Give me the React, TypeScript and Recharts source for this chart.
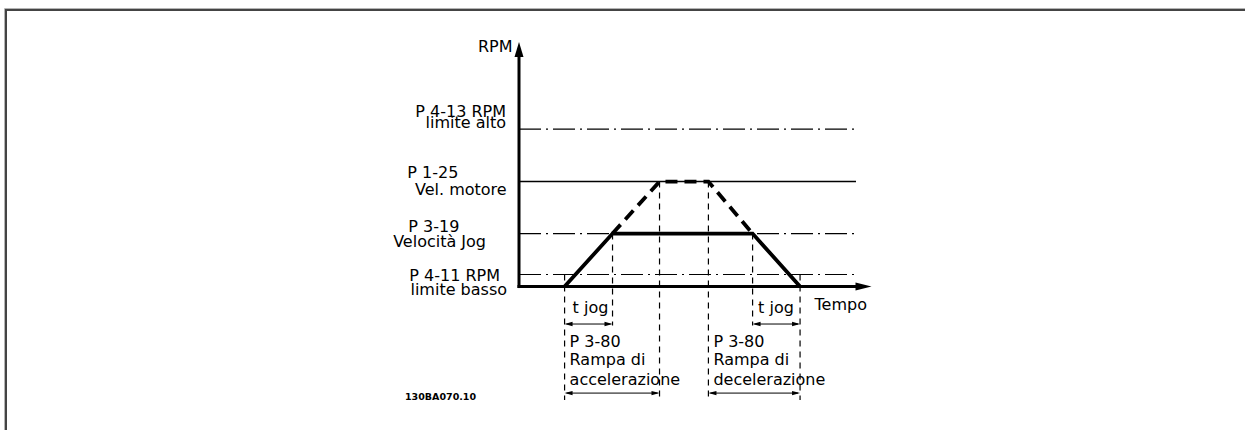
import React from 'react';
import { ComposedChart, Line, XAxis, YAxis, ReferenceLine } from 'recharts';

// corners of the jog cycle (time units)
const cycleTimes = [0.97, 1.99, 2.99, 4.03, 4.97, 5.98];
// speed really reached in jog (solid)
const jogProfile = [0, 50.5, 50.5, 50.5, 50.5, 0];
// ramp that would go on up to motor speed (dashed)
const rampProfile = [null, 50.5, 100, 100, 50.5, null];

// RPM levels drawn as horizontal lines
const levelValues = [150, 100, 50.5, 11.5];
const levelTitles = ['P 4-13 RPM', 'P 1-25', 'P 3-19', 'P 4-11 RPM'];
const levelNames = ['limite alto', 'Vel. motore', 'Velocità Jog', 'limite basso'];

// vertical guides: rpm where each one starts, and where it stops under the axis
const guideTops = [11.5, 50.5, 100, 100, 50.5, 11.5];
const guideBottoms = [-108, -37, -108, -108, -37, -108];

const tJogSpans = [[0.97, 1.99], [4.97, 5.98]];
const rampSpans = [[0.97, 2.99], [4.03, 5.98]];
const rampLabels = [
  ['P 3-80', 'Rampa di', 'accelerazione'],
  ['P 3-80', 'Rampa di', 'decelerazione'],
];

const rpmMax = 233;
const rpmMin = -110;
const timeMax = 7.5;
const levelEnd = 7.17;
const tJogY = -35.7;
const rampY = -101.5;

const black = '#000';
const font = '"DejaVu Sans", Verdana, sans-serif';

// where the two text lines of each level sit, relative to the line start
const levelLayout: { t: [number, number, string]; n: [number, number, string] }[] = [
  { t: [-13, -12.4, 'end'], n: [-13, -0.8, 'end'] },
  { t: [-111.7, -3.3, 'start'], n: [-12.3, 13.4, 'end'] },
  { t: [-110.7, -1.9, 'start'], n: [-33, 13.1, 'end'] },
  { t: [-19, 6.5, 'end'], n: [-12, 20.5, 'end'] },
];
const levelDash = ['22 5 2 5', undefined, '22 5 2 5', '22 5 2 5'];

const Txt = ({ x, y, anchor = 'start', children }: any) => (
  <text x={x} y={y} textAnchor={anchor} fontFamily={font} fontSize={16} fill={black}>
    {children}
  </text>
);

const arrowHead = (x: number, y: number, dx: number, dy: number, len: number, half: number) => {
  const bx = x - dx * len;
  const by = y - dy * len;
  const px = -dy * half;
  const py = dx * half;
  return <polygon points={`${x},${y} ${bx + px},${by + py} ${bx - px},${by - py}`} fill={black} />;
};

const yAxisShape = (p: any) => (
  <g>
    <line x1={p.x1} y1={p.y1 + 1.5} x2={p.x2} y2={p.y2 + 12} stroke={black} strokeWidth={3} />
    {arrowHead(p.x2, p.y2, 0, -1, 15, 4.5)}
    <Txt x={p.x2 - 6.5} y={p.y2 + 9.7} anchor="end">RPM</Txt>
  </g>
);

const xAxisShape = (p: any) => (
  <g>
    <line x1={p.x1 - 1.5} y1={p.y1} x2={p.x2 - 12} y2={p.y2} stroke={black} strokeWidth={3} />
    {arrowHead(p.x2, p.y2, 1, 0, 16, 4)}
    <Txt x={p.x2 - 4.5} y={p.y1 + 23.5} anchor="end">Tempo</Txt>
  </g>
);

const levelShape = (i: number) => (p: any) => {
  const L = levelLayout[i];
  return (
    <g>
      <line
        x1={p.x1}
        y1={p.y1}
        x2={p.x2}
        y2={p.y2}
        stroke={black}
        strokeWidth={levelDash[i] ? 1.2 : 1.5}
        strokeDasharray={levelDash[i]}
      />
      <Txt x={p.x1 + L.t[0]} y={p.y1 + L.t[1]} anchor={L.t[2]}>{levelTitles[i]}</Txt>
      <Txt x={p.x1 + L.n[0]} y={p.y1 + L.n[1]} anchor={L.n[2]}>{levelNames[i]}</Txt>
    </g>
  );
};

const spanShape = (lines: string[], dx: number, dys: number[]) => (p: any) => (
  <g>
    <line x1={p.x1 + 2} y1={p.y1} x2={p.x2 - 2} y2={p.y2} stroke={black} strokeWidth={1} />
    {arrowHead(p.x1, p.y1, -1, 0, 8, 2.2)}
    {arrowHead(p.x2, p.y2, 1, 0, 8, 2.2)}
    {lines.map((s, k) => (
      <Txt key={k} x={p.x1 + dx} y={p.y1 + dys[k]}>{s}</Txt>
    ))}
  </g>
);

const rows = cycleTimes.map((t, i) => ({ t, jog: jogProfile[i], ramp: rampProfile[i] }));

export default function App() {
  return (
    <div
      style={{
        position: 'absolute',
        left: 0,
        top: 0,
        width: 1245,
        height: 430,
        overflow: 'hidden',
        background: '#fff',
      }}
    >
      <ComposedChart
        width={1245}
        height={430}
        data={rows}
        margin={{ top: 42, right: 373.5, bottom: 28, left: 519 }}
        style={{ position: 'absolute', left: 0, top: 0 }}
      >
        <XAxis type="number" dataKey="t" domain={[0, timeMax]} hide allowDataOverflow />
        <YAxis type="number" domain={[rpmMin, rpmMax]} hide allowDataOverflow />

        {cycleTimes.map((t, i) => (
          <ReferenceLine
            key={`g${i}`}
            segment={[{ x: t, y: guideTops[i] }, { x: t, y: guideBottoms[i] }]}
            stroke={black}
            strokeWidth={1.2}
            strokeDasharray="6 5"
            ifOverflow="visible"
          />
        ))}

        {levelValues.map((v, i) => (
          <ReferenceLine
            key={`l${i}`}
            segment={[{ x: 0, y: v }, { x: levelEnd, y: v }]}
            shape={levelShape(i)}
            ifOverflow="visible"
          />
        ))}

        {tJogSpans.map((s, i) => (
          <ReferenceLine
            key={`tj${i}`}
            segment={[{ x: s[0], y: tJogY }, { x: s[1], y: tJogY }]}
            shape={spanShape(['t jog'], i === 0 ? 8 : 5.5, [-10.7])}
            ifOverflow="visible"
          />
        ))}

        {rampSpans.map((s, i) => (
          <ReferenceLine
            key={`r${i}`}
            segment={[{ x: s[0], y: rampY }, { x: s[1], y: rampY }]}
            shape={spanShape(rampLabels[i], 5, [-46.3, -28, -8])}
            ifOverflow="visible"
          />
        ))}

        <ReferenceLine segment={[{ x: 0, y: 0 }, { x: 0, y: rpmMax }]} shape={yAxisShape} ifOverflow="visible" />
        <ReferenceLine segment={[{ x: 0, y: 0 }, { x: timeMax, y: 0 }]} shape={xAxisShape} ifOverflow="visible" />

        <Line
          type="linear"
          dataKey="ramp"
          stroke={black}
          strokeWidth={3.8}
          strokeDasharray="12 7"
          dot={false}
          activeDot={false}
          isAnimationActive={false}
        />
        <Line
          type="linear"
          dataKey="jog"
          stroke={black}
          strokeWidth={3.8}
          strokeLinejoin="miter"
          dot={false}
          activeDot={false}
          isAnimationActive={false}
        />
      </ComposedChart>
      {/* page frame (top and left edges only) and drawing number */}
      <svg width={1245} height={430} style={{ position: 'absolute', left: 0, top: 0, pointerEvents: 'none' }}>
        <polyline points="4.5,430 4.5,8.5 1245,8.5" fill="none" stroke="#b4b4b4" strokeWidth={1} />
        <polyline points="6,430 6,10 1245,10" fill="none" stroke="#444" strokeWidth={2} />
        <text x={405} y={400} fontFamily={font} fontWeight="bold" fontSize={9.5} fill={black}>
          130BA070.10
        </text>
      </svg>
    </div>
  );
}
